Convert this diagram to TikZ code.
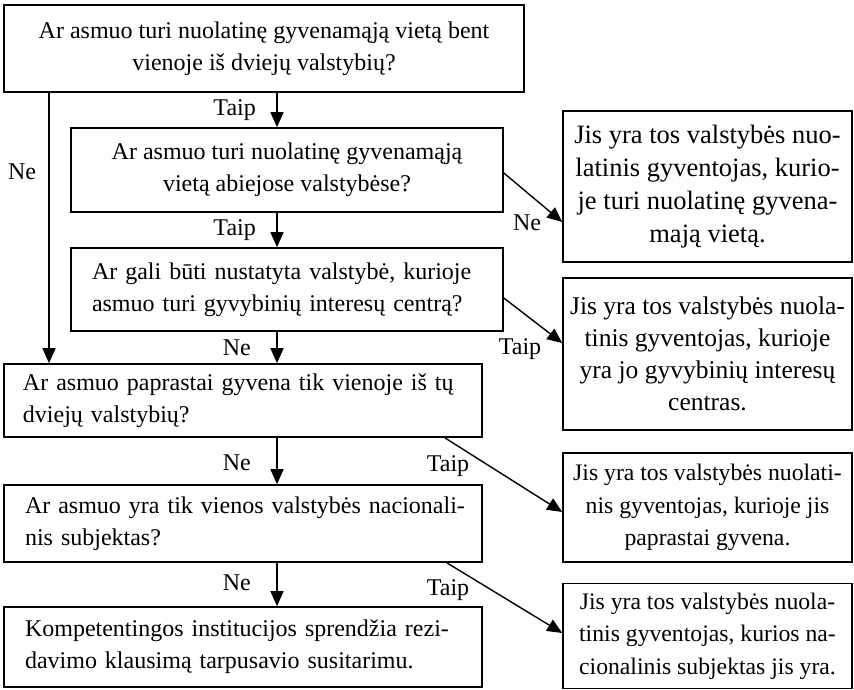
\documentclass[tikz,border=0pt]{standalone}
\usepackage{fontspec}
\setmainfont{Liberation Serif}
\usetikzlibrary{arrows.meta,calc}
\begin{document}
\begin{tikzpicture}[x=1pt,y=1pt,
  box/.style={draw,line width=1.6pt,rectangle,inner sep=0pt,font=\fontsize{24}{32}\selectfont},
  lbox/.style={box,align=left},
  cbox/.style={box,align=center},
  arr/.style={line width=1.4pt,-{Triangle[length=15pt,width=13pt]}},
  lbl/.style={font=\fontsize{24}{28}\selectfont,inner sep=0pt}
]
\useasboundingbox (0,0) rectangle (854,-690);
% left column
\node[cbox,minimum width=520pt,minimum height=87pt] (b1) at (264,-48.5)
  {Ar asmuo turi nuolatinę gyvenamąją vietą bent\\vienoje iš dviejų valstybių?};
\node[cbox,minimum width=432pt,minimum height=84pt] (b2) at (287,-170)
  {Ar asmuo turi nuolatinę gyvenamąją\\vietą abiejose valstybėse?};
\node[lbox,inner xsep=21pt,text width=390pt,minimum height=83pt] (b3) at (287,-289.5)
  {Ar gali būti nustatyta valstybė, kurioje\\asmuo turi gyvybinių interesų centrą?};
\node[lbox,inner xsep=19pt,text width=440pt,minimum height=73pt] (b4) at (243,-400.5)
  {Ar asmuo paprastai gyvena tik vienoje iš tų\\dviejų valstybių?};
\node[lbox,inner xsep=21pt,text width=436pt,minimum height=77pt] (b5) at (243,-523.5)
  {\makebox[436pt][s]{Ar asmuo yra tik vienos valstybės nacionali-}\\nis subjektas?};
\node[lbox,inner xsep=21pt,text width=436pt,minimum height=80pt] (b6) at (243,-647)
  {\makebox[436pt][s]{Kompetentingos institucijos sprendžia rezi-}\\davimo klausimą tarpusavio susitarimu.};
% right column
\node[cbox,minimum width=289pt,minimum height=151pt,font=\fontsize{26.5}{33}\selectfont] (r1) at (707.5,-186.5)
  {Jis yra tos valstybės nuo-\\latinis gyventojas, kurio-\\je turi nuolatinę gyvena-\\mają vietą.};
\node[cbox,minimum width=289pt,minimum height=152pt,font=\fontsize{25.5}{32}\selectfont] (r2) at (707.5,-354)
  {Jis yra tos valstybės nuola-\\tinis gyventojas, kurioje\\yra jo gyvybinių interesų\\centras.};
\node[cbox,minimum width=289pt,minimum height=109pt,font=\fontsize{23.7}{32.5}\selectfont] (r3) at (707.5,-507.5)
  {Jis yra tos valstybės nuolati-\\nis gyventojas, kurioje jis\\paprastai gyvena.};
\node[cbox,minimum width=289pt,minimum height=105pt,font=\fontsize{23.7}{32.5}\selectfont] (r4) at (707.5,-636)
  {Jis yra tos valstybės nuola-\\tinis gyventojas, kurios na-\\cionalinis subjektas jis yra.};
% labels
\node[lbl,anchor=east] (t1) at (256,-110) {Taip};
\node[lbl,anchor=east] (t2) at (256,-230) {Taip};
\node[lbl,anchor=east] (n3) at (251,-348) {Ne};
\node[lbl,anchor=east] (n4) at (251,-463) {Ne};
\node[lbl,anchor=east] (n5) at (251,-583) {Ne};
\node[lbl] (n0) at (22,-172) {Ne};
\node[lbl] (n1) at (527,-223) {Ne};
\node[lbl] (t3) at (520,-349) {Taip};
\node[lbl] (t4) at (448,-466) {Taip};
\node[lbl] (t5) at (448,-590) {Taip};
% connectors
\coordinate (cx) at (277,0);
\coordinate (lx) at (49,0);
\draw[arr] (b1.south -| cx) -- (b2.north -| cx);
\draw[arr] (b2.south -| cx) -- (b3.north -| cx);
\draw[arr] (b3.south -| cx) -- (b4.north -| cx);
\draw[arr] (b4.south -| cx) -- (b5.north -| cx);
\draw[arr] (b5.south -| cx) -- (b6.north -| cx);
\draw[arr] (b1.south -| lx) -- (b4.north -| lx);
\draw[arr] ([yshift=-3pt]b2.east) -- ([yshift=-35.5pt]r1.west);
\draw[arr] ([yshift=-8.5pt]b3.east) -- ([yshift=11pt]r2.west);
\draw[arr] ($(b4.south east)+(-38,0)$) -- ([yshift=-4.5pt]r3.west);
\draw[arr] ($(b5.south east)+(-36,0)$) -- ([yshift=3pt]r4.west);
\end{tikzpicture}
\end{document}
